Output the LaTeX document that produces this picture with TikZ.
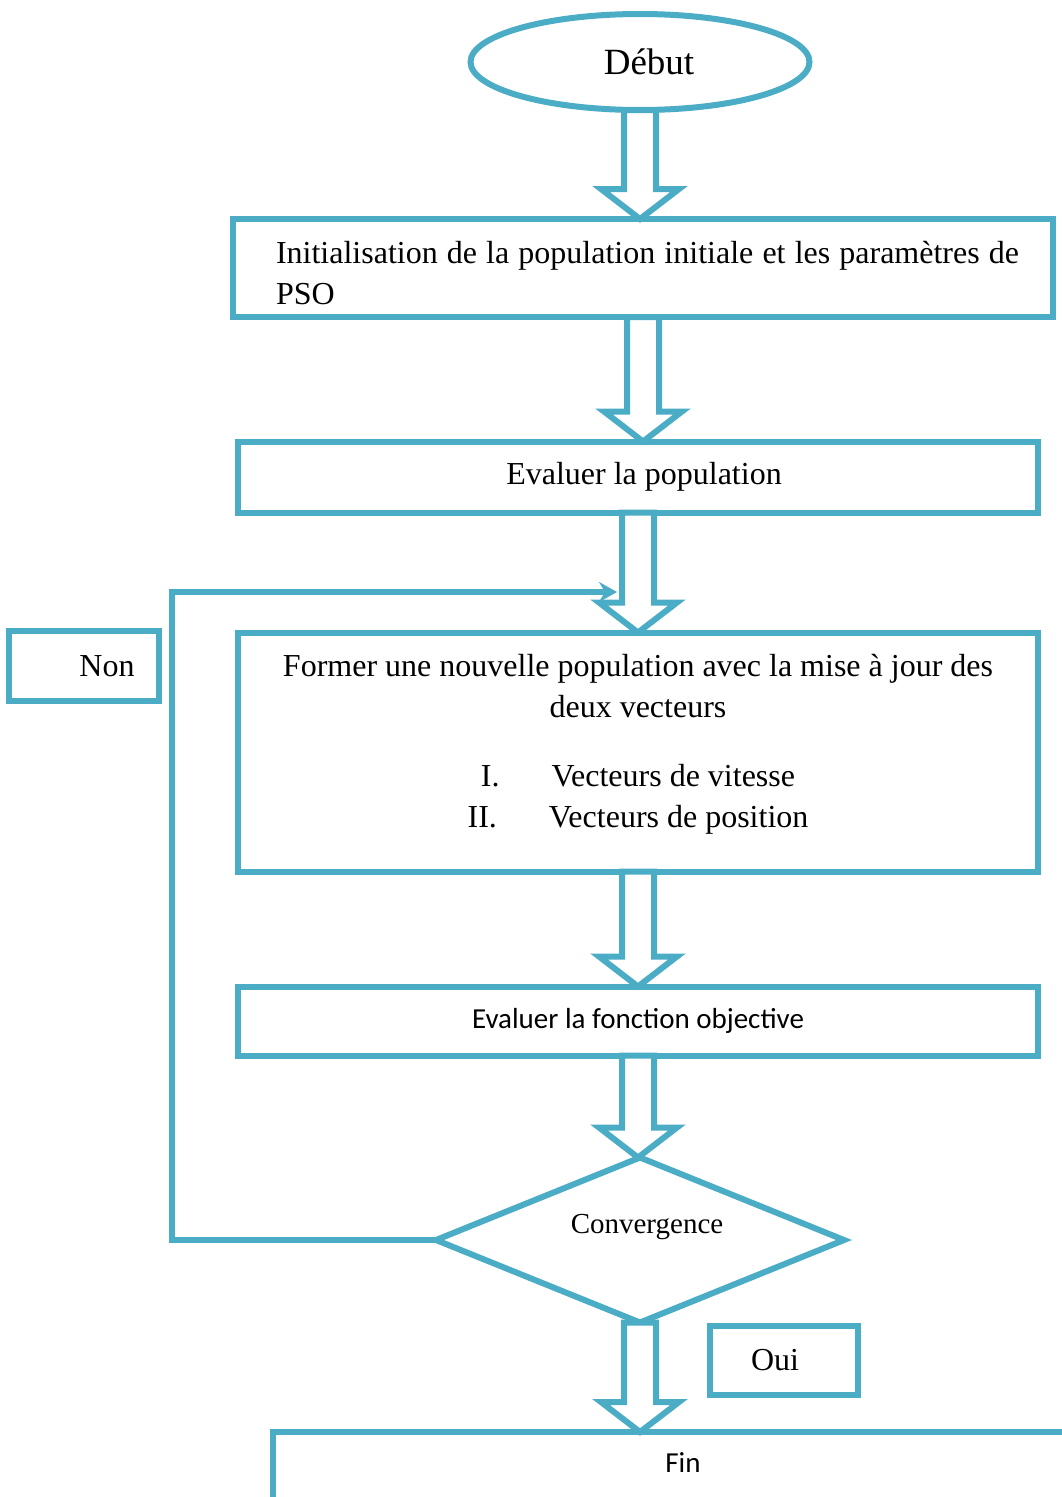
\documentclass[tikz,border=0pt]{standalone}
\usepackage{fontspec}
\setmainfont{Liberation Serif}
\newfontfamily\calibri{Carlito}
\usetikzlibrary{shapes.geometric,arrows.meta,positioning,calc}
\definecolor{psoblue}{HTML}{4BACC6}
\newcommand\blockarrow[2]{%
    \draw[bloc] let \p1=(#1), \p2=(#2) in
        (\x1-16pt,\y1) -- (\x1-16pt,\y2+30pt) -- (\x1-39pt,\y2+30pt) -- (\x1,\y2)
        -- (\x1+39pt,\y2+30pt) -- (\x1+16pt,\y2+30pt) -- (\x1+16pt,\y1) -- cycle;}
\begin{document}
\begin{tikzpicture}[x=1pt,y=-1pt,
        boite/.style={draw=psoblue, line width=6pt, outer sep=0pt, inner sep=0pt, font=\fontsize{32}{41}\selectfont},
        bloc/.style={draw=psoblue, line width=6pt, fill=white, line join=miter},
        boucle/.style={draw=psoblue, line width=6pt, -{Stealth[length=18pt,width=20pt,inset=6pt]}}]
        \useasboundingbox (0,0) rectangle (1062,1497);
        \clip (0,0) rectangle (1062,1497);
        \node[boite, ellipse, minimum width=339pt, minimum height=96pt, font=\fontsize{37}{44}\selectfont] (debut) at (640,62) {\hspace*{18pt}Début};
        \node[boite, minimum width=820pt, minimum height=98pt, text width=752pt, align=justify, text height=33pt] (init) at (643,268) {\hspace*{9pt}Initialisation de la population initiale et les paramètres de\linebreak \hspace*{9pt}PSO};
        \node[boite, minimum width=800pt, minimum height=71pt] (eval) at (638,477) {\hspace*{12pt}Evaluer la population};
        \node[boite, minimum width=800pt, minimum height=239pt, align=center, text depth=22pt] (former) at (638,752) {Former une nouvelle population avec la mise à jour des\\ deux vecteurs\\[28pt] I.\hspace{52pt}Vecteurs de vitesse\\ II.\hspace{52pt}Vecteurs de position};
        \node[boite, minimum width=800pt, minimum height=69pt, font=\calibri\fontsize{29}{35}\selectfont] (objectif) at (638,1021) {Evaluer la fonction objective};
        \node[boite, diamond, aspect=2.5, minimum width=408pt, minimum height=165pt, text depth=32pt, font=\fontsize{29}{35}\selectfont] (conv) at (640,1240) {\hspace*{14pt}Convergence};
        \node[boite, minimum width=150pt, minimum height=70pt] (non) at (84,666) {\hspace*{46pt}Non};
        \node[boite, minimum width=148pt, minimum height=69pt] (oui) at (784,1360) {Oui\hspace*{18pt}};
        \node[boite, minimum width=820pt, minimum height=140pt, anchor=north] (fin) at (683,1432) {};
        \node[font=\calibri\fontsize{29}{35}\selectfont] (fintexte) at ($(fin.north)+(0,31)$) {Fin};
        \blockarrow{debut.south}{init.north}
        \blockarrow{init.south}{eval.north}
        \blockarrow{eval.south}{former.north}
        \blockarrow{former.south}{objectif.north}
        \blockarrow{objectif.south}{conv.north}
        \blockarrow{conv.south}{fin.north}
        \coordinate (coude) at (172,592);
        \coordinate (entree) at (617,592);
        \draw[boucle] (conv.west) -| (coude) -- (entree);
    \end{tikzpicture}
\end{document}
